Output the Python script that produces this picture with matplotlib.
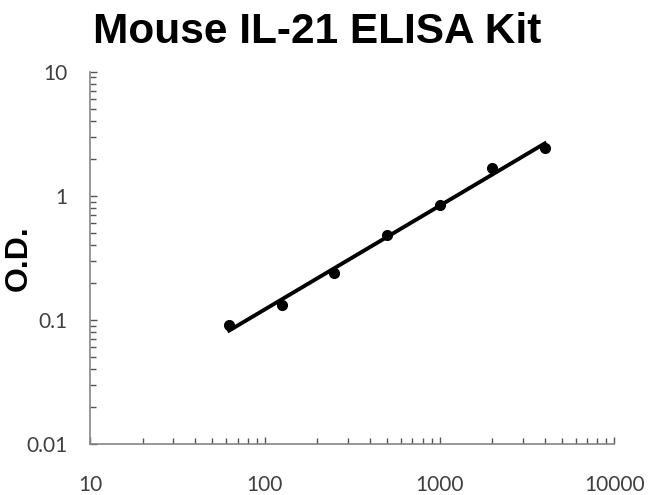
import numpy as np
import matplotlib.pyplot as plt

# standard curve: concentration (pg/ml) vs optical density
conc = [62.5, 125, 250, 500, 1000, 2000, 4000]
od = [0.091, 0.132, 0.24, 0.48, 0.84, 1.69, 2.43]

fig = plt.figure(figsize=(6.48, 4.95), dpi=100)
ax = fig.add_axes([0.139, 0.103, 0.809, 0.752])

# power-law trendline fitted in log-log space
slope, intercept = np.polyfit(np.log10(conc), np.log10(od), 1)
xfit = np.array([conc[0], conc[-1]])
yfit = 10 ** (intercept + slope * np.log10(xfit))

ax.plot(conc, od, 'o', color='black', markersize=7, zorder=3)
ax.plot(xfit, yfit, '-', color='black', linewidth=2.8, zorder=2)

ax.set_xscale('log')
ax.set_yscale('log')
ax.set_xlim(10, 10000)
ax.set_ylim(0.01, 10)
ax.set_xticks([10, 100, 1000, 10000])
ax.set_xticklabels(['10', '100', '1000', '10000'])
ax.set_yticks([0.01, 0.1, 1, 10])
ax.set_yticklabels(['0.01', '0.1', '1', '10'])

for s in ['top', 'right']:
    ax.spines[s].set_visible(False)
for s in ['left', 'bottom']:
    ax.spines[s].set_color('#868686')
    ax.spines[s].set_linewidth(1.2)

ax.tick_params(which='both', direction='in', color='#555555', width=1,
               labelsize=15, labelcolor='#404040')
ax.tick_params(which='major', length=5)
ax.tick_params(which='minor', length=4)
ax.tick_params(axis='x', pad=22)
ax.tick_params(axis='y', pad=16)
for lbl in ax.get_xticklabels() + ax.get_yticklabels():
    lbl.set_family('Lato')

ax.set_ylabel('O.D.', fontsize=23, fontweight='bold', family='Liberation Sans')
ax.yaxis.set_label_coords(-0.108, 0.5)
fig.suptitle('Mouse IL-21 ELISA Kit', fontsize=30.5, fontweight='bold',
             family='Liberation Sans', x=0.49, y=0.975)

fig.savefig('out.png', dpi=100)
